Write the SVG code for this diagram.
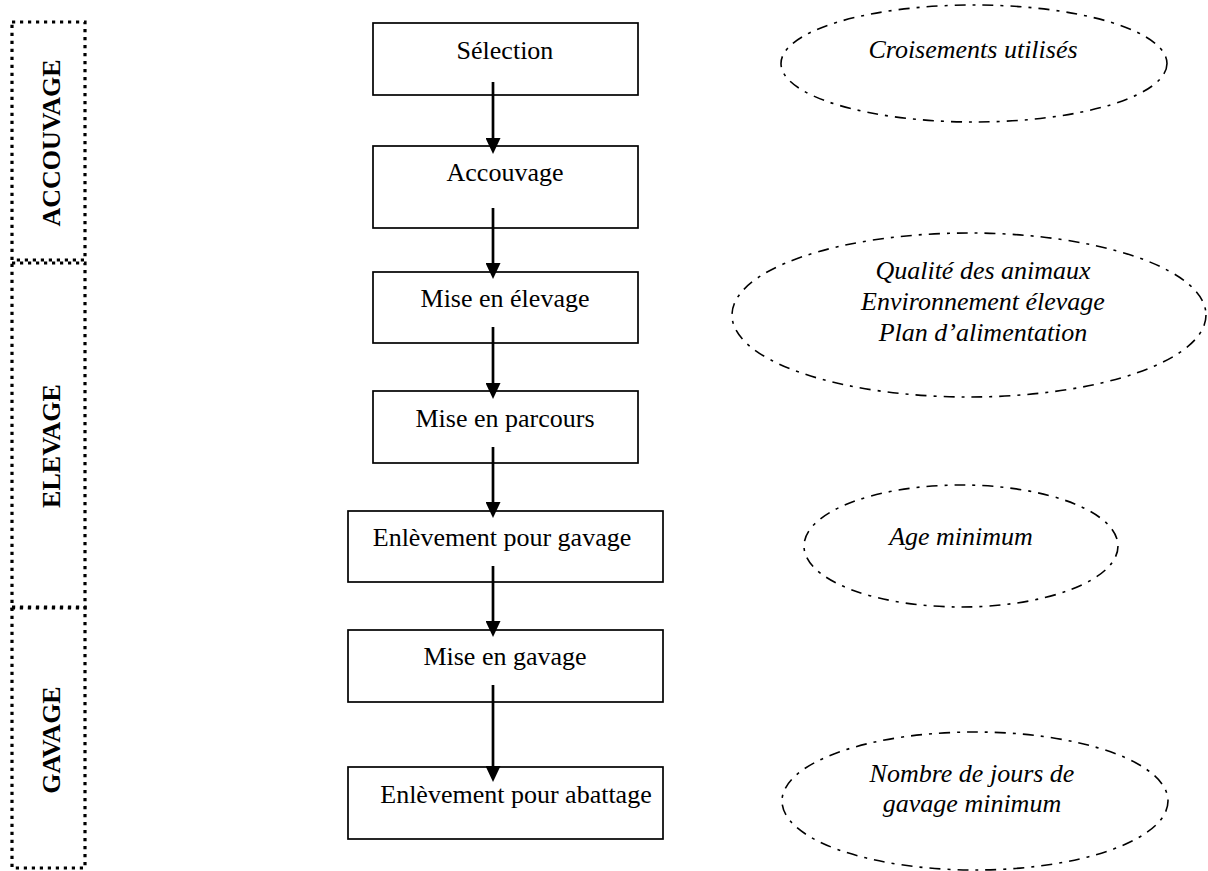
<svg xmlns="http://www.w3.org/2000/svg" width="1208" height="871" viewBox="0 0 1208 871">
<defs>
<style>
.box{fill:#fff;stroke:#000;stroke-width:1.7}
.phase{fill:none;stroke:#000;stroke-width:3.2;stroke-dasharray:3.2,4.8}
.oval{fill:none;stroke:#000;stroke-width:1.6;stroke-dasharray:11,7,3,7}
.t{font-family:"Liberation Serif","Times New Roman",serif;font-size:26px;fill:#000;text-anchor:middle}
.i{font-style:italic}
.b{font-weight:bold}
.conn line{stroke:#000;stroke-width:2.7}
</style>
<marker id="ah" viewBox="0 0 16 15" refX="5" refY="7.5" markerWidth="16" markerHeight="15" markerUnits="userSpaceOnUse" orient="auto">
<path d="M0,0 L16,7.5 L0,15 Z" fill="#000"/>
</marker>
</defs>
<rect width="1208" height="871" fill="#fff"/>

<g id="phase-accouvage">
<rect class="phase" x="12" y="22" width="73" height="238"/>
<text class="t b" transform="translate(60,143) rotate(-90)">ACCOUVAGE</text>
</g>
<g id="phase-elevage">
<rect class="phase" x="12" y="263" width="73" height="345"/>
<text class="t b" transform="translate(60,446) rotate(-90)">ELEVAGE</text>
</g>
<g id="phase-gavage">
<rect class="phase" x="12" y="607" width="73" height="261"/>
<text class="t b" transform="translate(60,740) rotate(-90)">GAVAGE</text>
</g>

<g id="n-selection">
<rect class="box" x="373" y="23" width="265" height="72"/>
<text class="t" x="505" y="59">Sélection</text>
</g>
<g id="n-accouvage">
<rect class="box" x="373" y="146" width="265" height="82"/>
<text class="t" x="505" y="181">Accouvage</text>
</g>
<g id="n-mise-elevage">
<rect class="box" x="373" y="272" width="265" height="71"/>
<text class="t" x="505" y="307">Mise en élevage</text>
</g>
<g id="n-mise-parcours">
<rect class="box" x="373" y="391" width="265" height="72"/>
<text class="t" x="505" y="427">Mise en parcours</text>
</g>
<g id="n-enlevement-gavage">
<rect class="box" x="348" y="511" width="315" height="71"/>
<text class="t" x="502" y="546">Enlèvement pour gavage</text>
</g>
<g id="n-mise-gavage">
<rect class="box" x="348" y="630" width="315" height="72"/>
<text class="t" x="505" y="665">Mise en gavage</text>
</g>
<g id="n-enlevement-abattage">
<rect class="box" x="348" y="767" width="315" height="72"/>
<text class="t" x="516" y="803">Enlèvement pour abattage</text>
</g>

<g id="connectors" class="conn">
<line x1="493" y1="82" x2="493" y2="143" marker-end="url(#ah)"/>
<line x1="493" y1="208" x2="493" y2="268" marker-end="url(#ah)"/>
<line x1="493" y1="327" x2="493" y2="388" marker-end="url(#ah)"/>
<line x1="493" y1="447" x2="493" y2="507" marker-end="url(#ah)"/>
<line x1="493" y1="566" x2="493" y2="626" marker-end="url(#ah)"/>
<line x1="493" y1="685" x2="493" y2="771" marker-end="url(#ah)"/>
</g>

<g id="e-croisements">
<ellipse class="oval" cx="974" cy="63.5" rx="193" ry="58.5"/>
<text class="t i" x="973" y="58">Croisements utilisés</text>
</g>
<g id="e-qualite">
<ellipse class="oval" cx="969" cy="315" rx="237" ry="82"/>
<text class="t i" x="983" y="279">Qualité des animaux</text>
<text class="t i" x="983" y="310">Environnement élevage</text>
<text class="t i" x="983" y="341">Plan d’alimentation</text>
</g>
<g id="e-age">
<ellipse class="oval" cx="961" cy="546" rx="157" ry="61"/>
<text class="t i" x="961" y="545">Age minimum</text>
</g>
<g id="e-jours">
<ellipse class="oval" cx="975" cy="801" rx="193" ry="69"/>
<text class="t i" x="972" y="782">Nombre de jours de</text>
<text class="t i" x="972" y="812">gavage minimum</text>
</g>
</svg>
